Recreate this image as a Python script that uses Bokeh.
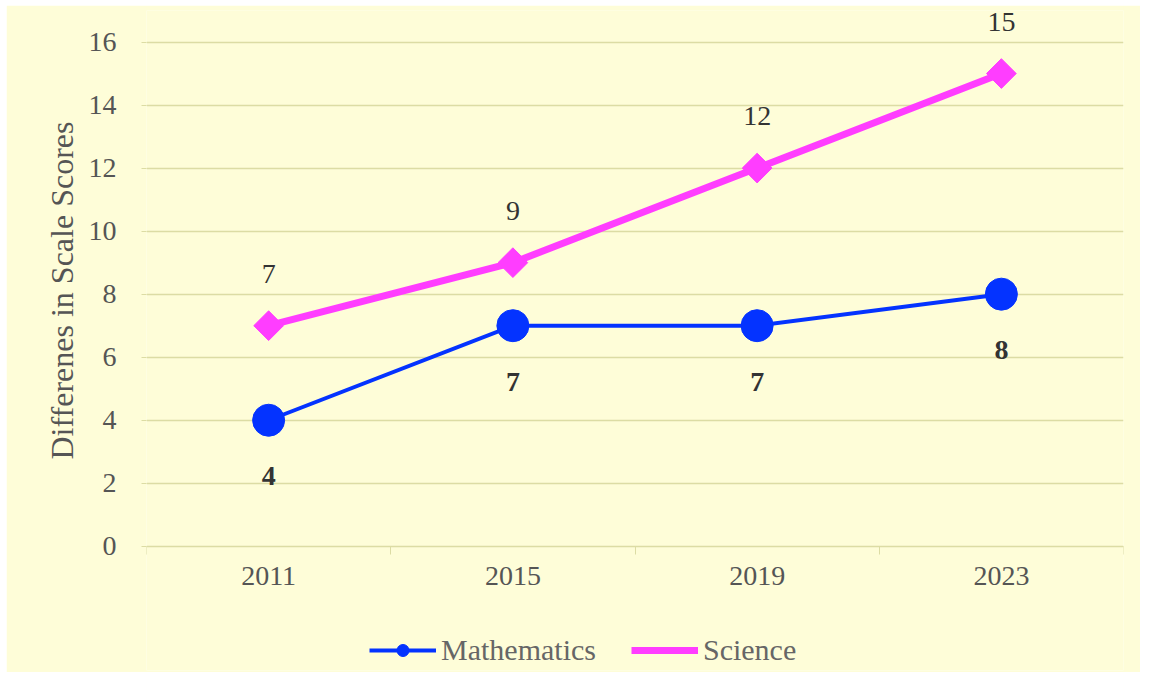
from bokeh.plotting import figure
from bokeh.models import (Range1d, FixedTicker, ColumnDataSource, LabelSet,
                          Legend, LegendItem, Title)
from bokeh.embed import file_html
from bokeh.resources import INLINE

years = ["2011", "2015", "2019", "2023"]
mathematics = [4, 7, 7, 8]
science = [7, 9, 12, 15]
y_ticks = [0, 2, 4, 6, 8, 10, 12, 14, 16]
y_title = "Differenes  in Scale Scores"

FONT = "Liberation Serif"
BG = "#FEFDD8"
GRID = "#DCDCA4"
BLUE = "#0433FF"
MAGENTA = "#FF3DFF"

xs = [i + 0.5 for i in range(len(years))]
src = ColumnDataSource(dict(x=xs, math=mathematics, sci=science,
                            math_t=[str(v) for v in mathematics],
                            sci_t=[str(v) for v in science]))

p = figure(width=1134, height=667, output_backend="svg", toolbar_location=None,
           x_range=Range1d(0, len(years)), y_range=Range1d(-3.94, 17.0),
           background_fill_color=BG, border_fill_color=BG,
           min_border_left=140, min_border_right=17, min_border_top=5,
           min_border_bottom=2, margin=(5, 6, 6, 6))
p.outline_line_color = None

# axes
p.xaxis.fixed_location = 0
p.xaxis.ticker = FixedTicker(ticks=xs, minor_ticks=list(range(len(years) + 1)))
p.xaxis.major_label_overrides = {x: y for x, y in zip(xs, years)}
p.xaxis.major_tick_line_color = None
p.xaxis.major_tick_out = 0
p.xaxis.minor_tick_out = 8
p.xaxis.minor_tick_in = 0
p.xaxis.minor_tick_line_color = GRID
p.xaxis.axis_line_color = GRID
p.xaxis.major_label_standoff = 13
p.xgrid.grid_line_color = None

p.yaxis.ticker = FixedTicker(ticks=y_ticks)
p.yaxis.axis_line_color = None
p.yaxis.major_tick_line_color = GRID
p.yaxis.major_tick_out = 5
p.yaxis.major_tick_in = 0
p.yaxis.minor_tick_line_color = None
p.yaxis.major_label_standoff = 25
p.ygrid.grid_line_color = GRID
p.ygrid.grid_line_width = 1.5

for ax in (p.xaxis, p.yaxis):
    ax.major_label_text_font = FONT
    ax.major_label_text_font_size = "28px"
    ax.major_label_text_color = "#555555"

p.add_layout(Title(text=y_title, align="left", offset=211, standoff=11,
                   text_font=FONT, text_font_size="32px",
                   text_font_style="normal", text_color="#555555"), "left")

# series
ml = p.line("x", "math", source=src, line_color=BLUE, line_width=4)
mm = p.scatter("x", "math", source=src, marker="circle", size=32,
               fill_color=BLUE, line_color=BLUE)
sl = p.line("x", "sci", source=src, line_color=MAGENTA, line_width=7)
sm = p.scatter("x", "sci", source=src, marker="square", size=21, angle=0.7854,
               fill_color=MAGENTA, line_color=MAGENTA)

p.add_layout(LabelSet(x="x", y="sci", text="sci_t", source=src, y_offset=52,
                      text_align="center", text_baseline="middle",
                      text_font=FONT, text_font_size="28px", text_color="#333333"))
p.add_layout(LabelSet(x="x", y="math", text="math_t", source=src, y_offset=-56,
                      text_align="center", text_baseline="middle",
                      text_font=FONT, text_font_size="28px", text_color="#333333",
                      text_font_style="bold"))

legend = Legend(items=[LegendItem(label="Mathematics", renderers=[ml, mm]),
                       LegendItem(label="Science", renderers=[sl])],
                orientation="horizontal", location=(223, 3),
                glyph_width=67, glyph_height=30, label_standoff=5, spacing=35,
                padding=4, margin=0,
                background_fill_alpha=0, border_line_color=None,
                label_text_font=FONT, label_text_font_size="30px",
                label_text_color="#666666")
p.add_layout(legend, "center")

open("out.html", "w").write(file_html(p, INLINE))
